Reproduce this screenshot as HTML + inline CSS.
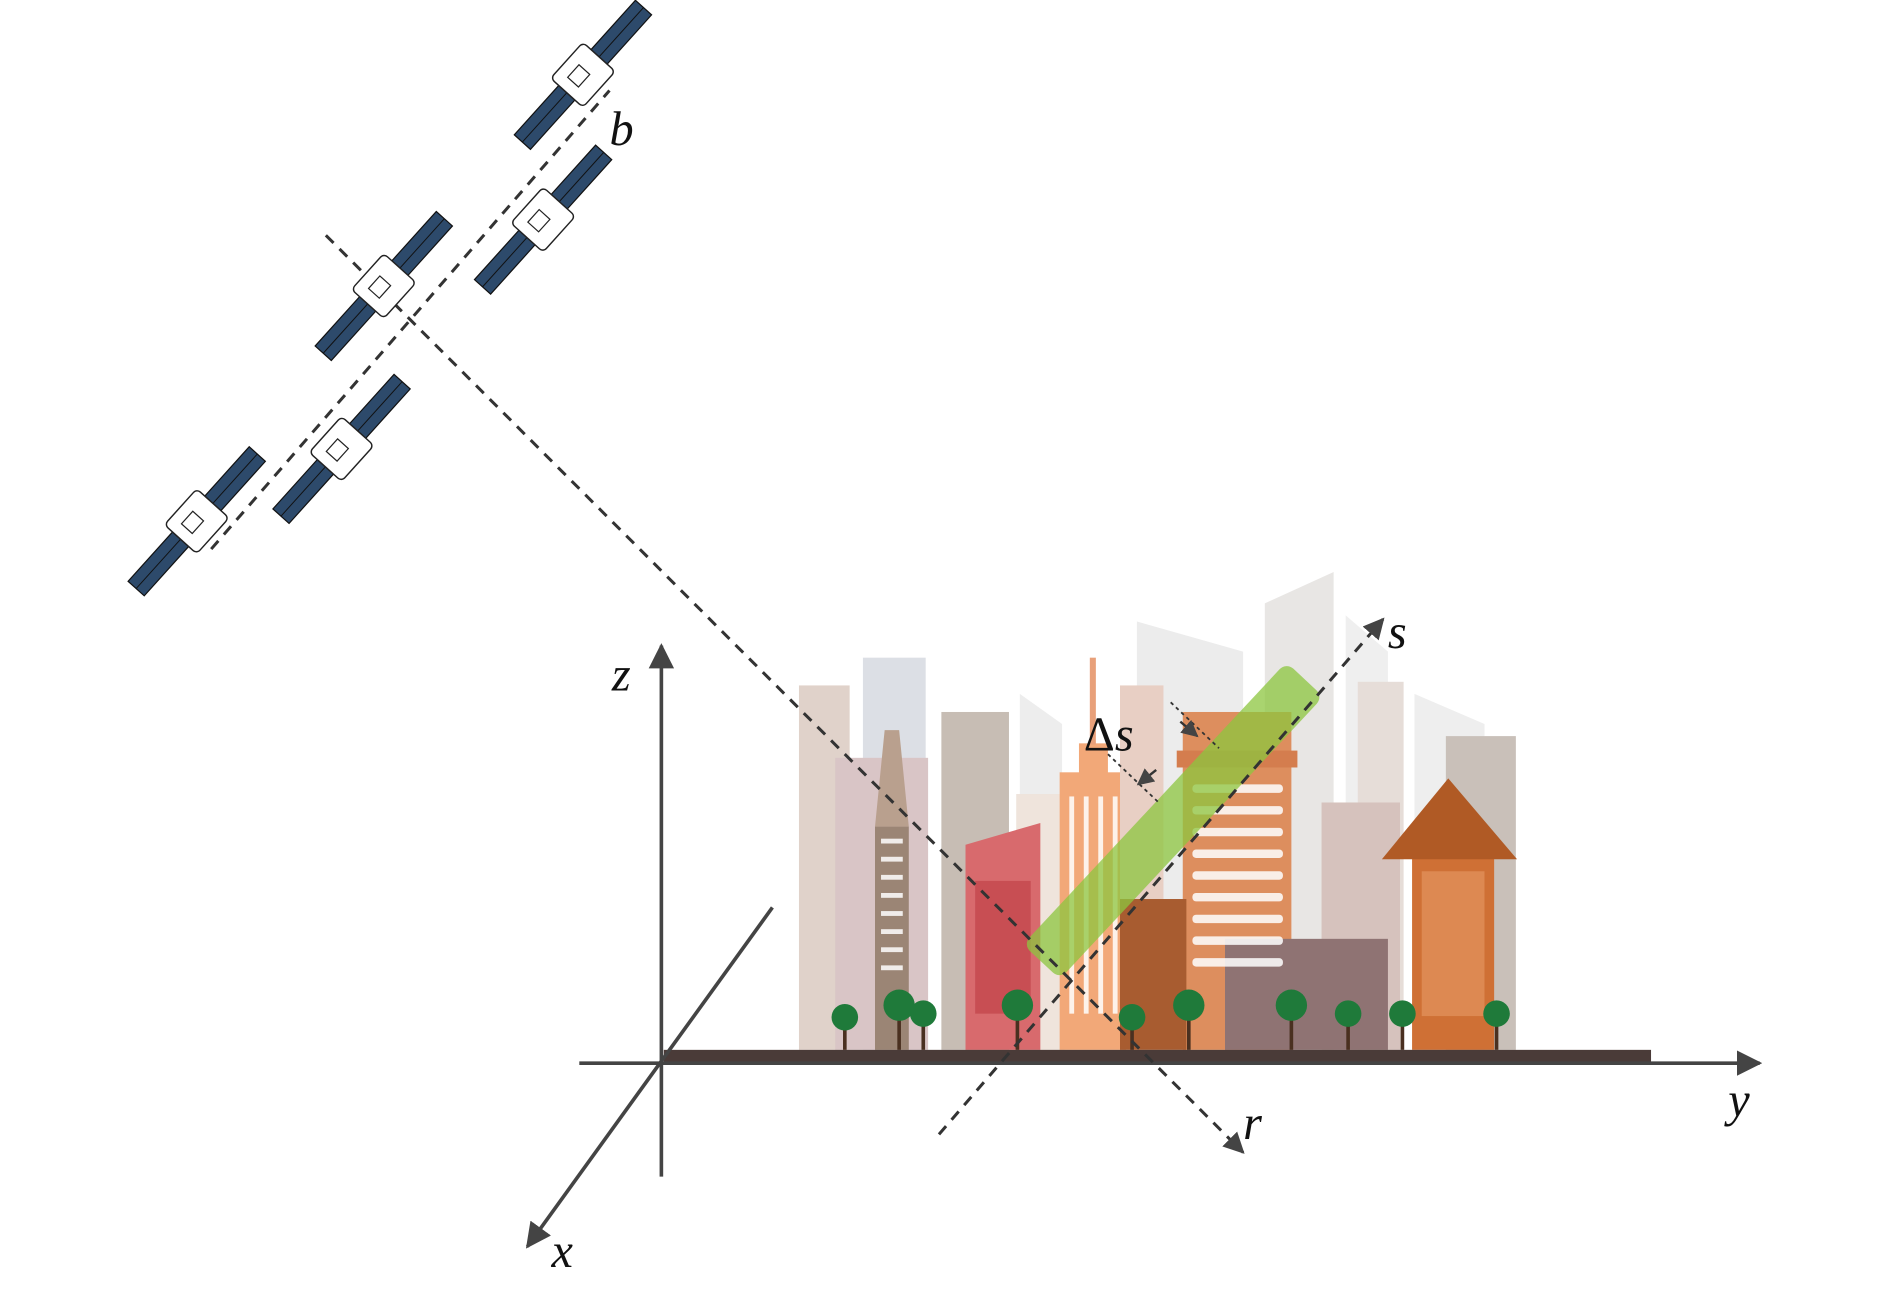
<!DOCTYPE html>
<html><head><meta charset="utf-8"><style>html,body{margin:0;padding:0;background:#fff}svg{display:block}</style></head><body>
<svg width="1890" height="1290" viewBox="0 0 1566 1069" preserveAspectRatio="none" xmlns="http://www.w3.org/2000/svg">
<defs>
<marker id="ar" viewBox="0 0 10 10" refX="9" refY="5" markerWidth="7" markerHeight="7" orient="auto"><path d="M0,0 L10,5 L0,10 z" fill="#444"/></marker>
<g id="sat">
<rect x="-75" y="-9" width="55" height="18" fill="#2d4a6b" stroke="#111" stroke-width="1"/>
<rect x="20" y="-9" width="55" height="18" fill="#2d4a6b" stroke="#111" stroke-width="1"/>
<line x1="-75" y1="0" x2="75" y2="0" stroke="#111" stroke-width="0.8"/>
<rect x="-20" y="-18" width="40" height="36" rx="4" fill="#fff" stroke="#222" stroke-width="1.2"/>
<rect x="-10" y="-8" width="14" height="12" fill="none" stroke="#222"/>
</g>
</defs>
<g>
<polygon points="942,515 1030,540 1030,870 942,870" fill="#ececec"/>
<polygon points="1048,500 1105,474 1105,870 1048,870" fill="#e8e6e4"/>
<polygon points="1115,510 1150,540 1150,870 1115,870" fill="#efefef"/>
<polygon points="1172,575 1230,600 1230,870 1172,870" fill="#eeeeee"/>
<rect x="1198" y="610" width="58" height="260" fill="#c9c0b9"/>
<rect x="1125" y="565" width="38" height="305" fill="#e6ddd8"/>
<polygon points="845,575 880,600 880,870 845,870" fill="#ededed"/>
<rect x="662" y="568" width="42" height="302" fill="#e0d2ca"/>
<rect x="715" y="545" width="52" height="325" fill="#dcdfe5"/>
<rect x="692" y="628" width="77" height="242" fill="#d9c5c6"/>
<rect x="780" y="590" width="56" height="280" fill="#c7bdb4"/>
<rect x="842" y="658" width="40" height="212" fill="#efe4dc"/>
<polygon points="733,605 725,685 753,685 745,605" fill="#b9a08e"/>
<rect x="725" y="685" width="28" height="185" fill="#9b8575"/>
<polygon points="800,700 862,682 862,870 800,870" fill="#d86a6d"/>
<rect x="878" y="640" width="55" height="230" fill="#f2a878"/>
<rect x="894" y="616" width="24" height="25" fill="#f2a878"/>
<rect x="903" y="545" width="5" height="72" fill="#e8a07a"/>
<rect x="928" y="568" width="36" height="200" fill="#e8cfc4"/>
<rect x="980" y="590" width="90" height="280" fill="#dd8e5e"/>
<rect x="975" y="622" width="100" height="14" fill="#d47d4e"/>
<rect x="1095" y="665" width="65" height="205" fill="#d6c2bd"/>
<rect x="928" y="745" width="55" height="125" fill="#a85c30"/>
<rect x="1015" y="778" width="135" height="92" fill="#8f7373"/>
<rect x="1170" y="700" width="68" height="170" fill="#cf7035"/>
<polygon points="1145,712 1200,645 1257,712" fill="#b05a25"/>
</g>
<g fill="#fff" opacity="0.85">
<rect x="730" y="695" width="18" height="4"/><rect x="730" y="710" width="18" height="4"/><rect x="730" y="725" width="18" height="4"/><rect x="730" y="740" width="18" height="4"/><rect x="730" y="755" width="18" height="4"/><rect x="730" y="770" width="18" height="4"/><rect x="730" y="785" width="18" height="4"/><rect x="730" y="800" width="18" height="4"/>
<rect x="988" y="650" width="75" height="7" rx="3"/><rect x="988" y="668" width="75" height="7" rx="3"/><rect x="988" y="686" width="75" height="7" rx="3"/><rect x="988" y="704" width="75" height="7" rx="3"/><rect x="988" y="722" width="75" height="7" rx="3"/><rect x="988" y="740" width="75" height="7" rx="3"/><rect x="988" y="758" width="75" height="7" rx="3"/><rect x="988" y="776" width="75" height="7" rx="3"/><rect x="988" y="794" width="75" height="7" rx="3"/>
<rect x="886" y="660" width="4" height="180"/><rect x="898" y="660" width="4" height="180"/><rect x="910" y="660" width="4" height="180"/><rect x="922" y="660" width="4" height="180"/>
</g>
<g fill="#b8323a"><rect x="808" y="730" width="46" height="110" opacity="0.5"/></g>
<g fill="#e69a66"><rect x="1178" y="722" width="52" height="120" opacity="0.6"/></g>
<g stroke="#4a3020" stroke-width="3">
<line x1="700" y1="850" x2="700" y2="870"/><line x1="745" y1="845" x2="745" y2="870"/><line x1="765" y1="850" x2="765" y2="870"/><line x1="843" y1="845" x2="843" y2="870"/><line x1="938" y1="850" x2="938" y2="870"/><line x1="985" y1="845" x2="985" y2="870"/><line x1="1070" y1="845" x2="1070" y2="870"/><line x1="1117" y1="850" x2="1117" y2="870"/><line x1="1162" y1="850" x2="1162" y2="870"/><line x1="1240" y1="850" x2="1240" y2="870"/>
</g>
<g fill="#1f7a3a">
<circle cx="700" cy="843" r="11"/><circle cx="745" cy="833" r="13"/><circle cx="765" cy="840" r="11"/><circle cx="843" cy="833" r="13"/><circle cx="938" cy="843" r="11"/><circle cx="985" cy="833" r="13"/><circle cx="1070" cy="833" r="13"/><circle cx="1117" cy="840" r="11"/><circle cx="1162" cy="840" r="11"/><circle cx="1240" cy="840" r="11"/>
</g>
<rect x="550" y="870" width="818" height="10" fill="#4a3b38"/>
<g transform="translate(972,680) rotate(-47)">
<rect x="-160" y="-21" width="320" height="42" rx="8" fill="#8cc63f" opacity="0.75"/>
</g>
<g stroke="#444" stroke-width="3" fill="none">
<line x1="548" y1="975" x2="548" y2="535" marker-end="url(#ar)"/>
<line x1="480" y1="881" x2="1458" y2="881" marker-end="url(#ar)"/>
<line x1="640" y1="752" x2="437" y2="1033" marker-end="url(#ar)"/>
</g>
<g stroke="#333" stroke-width="2.5" fill="none" stroke-dasharray="9,7">
<line x1="270" y1="195" x2="1030" y2="955" marker-end="url(#ar)"/>
<line x1="778" y1="940" x2="1146" y2="513" marker-end="url(#ar)"/>
<line x1="175" y1="455" x2="505" y2="75"/>
</g>
<g stroke="#333" stroke-width="1.5" stroke-dasharray="3,3">
<line x1="970" y1="582" x2="1010" y2="620"/><line x1="918" y1="625" x2="960" y2="665"/>
</g>
<line x1="978" y1="598" x2="992" y2="610" stroke="#333" stroke-width="2" marker-end="url(#ar)"/>
<line x1="958" y1="638" x2="943" y2="650" stroke="#333" stroke-width="2" marker-end="url(#ar)"/>
<use href="#sat" transform="translate(163,432) rotate(-48)"/>
<use href="#sat" transform="translate(283,372) rotate(-48)"/>
<use href="#sat" transform="translate(318,237) rotate(-48)"/>
<use href="#sat" transform="translate(450,182) rotate(-48)"/>
<use href="#sat" transform="translate(483,62) rotate(-48)"/>
<g font-family="Liberation Serif, serif" font-style="italic" font-size="40" fill="#111">
<text x="507" y="572">z</text>
<text x="1432" y="925">y</text>
<text x="457" y="1050">x</text>
<text x="1030" y="944">r</text>
<text x="1150" y="537">s</text>
<text x="505" y="120">b</text>
<text x="898" y="622" font-style="normal">Δ<tspan font-style="italic">s</tspan></text>
</g>
</svg>
</body></html>
